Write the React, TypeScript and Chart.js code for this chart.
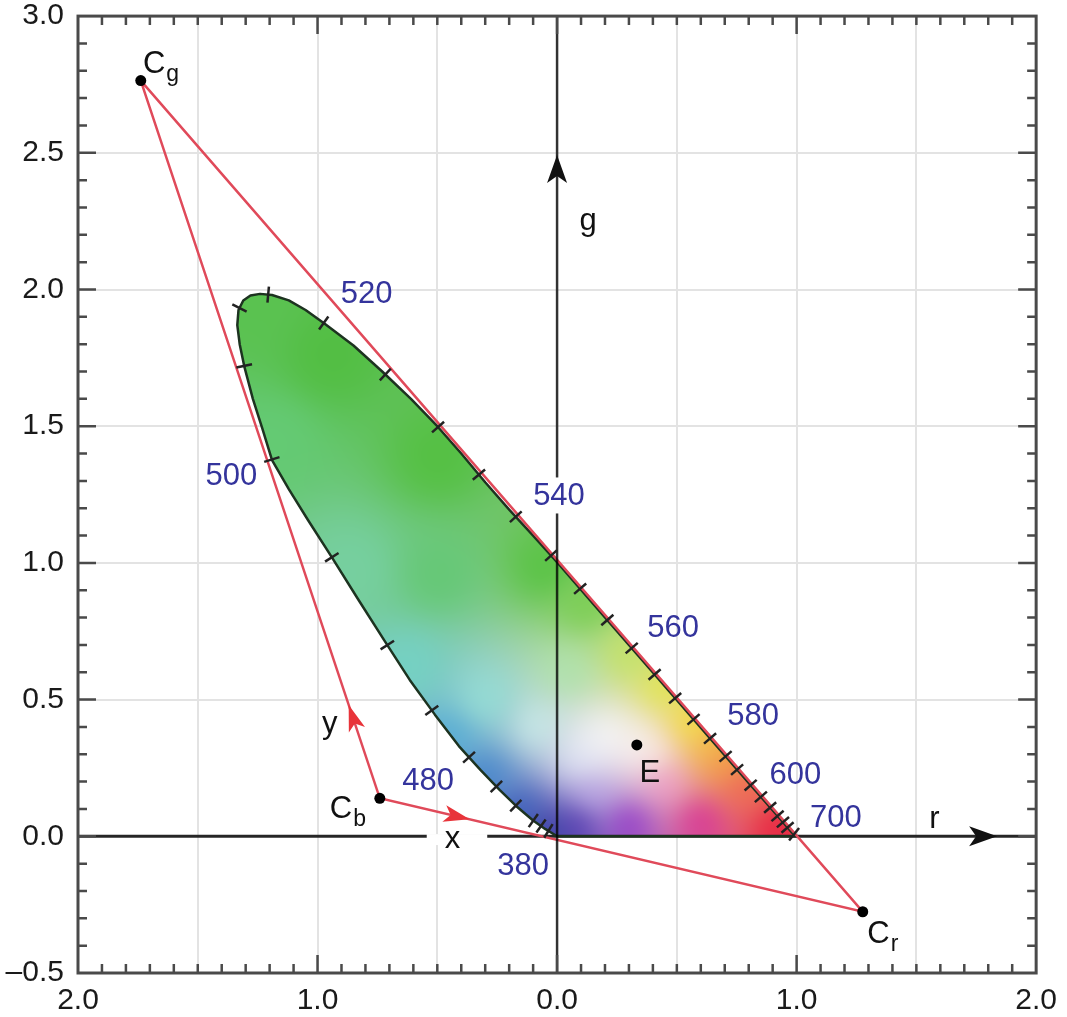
import React, { useEffect, useRef } from 'react';
import { Chart, registerables } from 'chart.js';

Chart.register(...registerables);

const FONT = "'Liberation Sans', Arial, Helvetica, sans-serif";

// Spectral locus (r, g), stylised as drawn in the figure: 380 nm -> 700 nm
const locusR = [
  0.0, -0.05, -0.1, -0.17, -0.24, -0.32, -0.41, -0.51, -0.615, -0.72, -0.83, -0.94, -1.04, -1.12, -1.19,
  -1.23, -1.27, -1.305, -1.325, -1.335, -1.33, -1.31, -1.28, -1.24,
  -1.19, -1.12, -1.05, -0.97, -0.85, -0.73, -0.61, -0.5, -0.4, -0.3, -0.2, -0.1, 0.0, 0.2, 0.4, 0.6, 0.8, 0.92, 0.98, 1.0,
];
const locusG = [
  0.0, 0.027, 0.058, 0.11, 0.17, 0.243, 0.33, 0.445, 0.572, 0.715, 0.866, 1.02, 1.157, 1.27, 1.376,
  1.49, 1.6, 1.716, 1.8, 1.87, 1.925, 1.96, 1.978, 1.984,
  1.98, 1.96, 1.925, 1.875, 1.795, 1.7, 1.6, 1.5, 1.4, 1.295, 1.195, 1.1, 1.003, 0.801, 0.599, 0.397, 0.195, 0.075, 0.014, 0.0,
];

// Wavelength tick marks along the locus
const tickR = [
  -0.052, -0.086, -0.127, -0.198, -0.269, -0.394, -0.532, -0.74, -0.97, -1.199, -1.333, -1.366,
  -1.207, -0.978, -0.728, -0.498, -0.323, -0.156, -0.01, 0.123, 0.219, 0.332, 0.419, 0.519, 0.582,
  0.665, 0.72, 0.774, 0.833, 0.874, 0.915, 0.949, 0.978, 0.999, 1.02,
];
const tickG = [
  -0.003, 0.014, 0.023, 0.089, 0.169, 0.268, 0.455, 0.682, 1.004, 1.376, 1.716, 1.95,
  1.972, 1.873, 1.679, 1.496, 1.325, 1.182, 1.039, 0.926, 0.798, 0.704, 0.601, 0.525, 0.437,
  0.378, 0.305, 0.261, 0.206, 0.162, 0.125, 0.096, 0.078, 0.06, 0.041,
];

// Primaries Cg, Cb, Cr and equal-energy point E
const primaryR = [-1.738, -0.74, 1.276, 0.333];
const primaryG = [2.764, 0.139, -0.276, 0.334];

// Triangle Cg -> Cr -> Cb -> Cg
const triR = [-1.738, 1.276, -0.74, -1.738];
const triG = [2.764, -0.276, 0.139, 2.764];

// Wavelength labels
const waveLabels = ['380', '480', '500', '520', '540', '560', '580', '600', '700'];
const waveLabelR = [-0.142, -0.538, -1.36, -0.795, 0.008, 0.484, 0.818, 0.995, 1.164];
const waveLabelG = [-0.11, 0.2, 1.316, 1.983, 1.243, 0.76, 0.438, 0.224, 0.065];
const waveLabelBg = [false, false, false, false, true, false, false, false, false];

// Other annotations (main text, subscript)
const textMain = ['C', 'C', 'C', 'E', 'g', 'r', 'x', 'y'];
const textSub = ['g', 'b', 'r', '', '', '', '', ''];
const textR = [-1.729, -0.949, 1.295, 0.344, 0.094, 1.554, -0.469, -0.981];
const textG = [2.792, 0.067, -0.39, 0.198, 2.216, 0.031, -0.043, 0.378];

// Arrows: from -> tip
const arrowFromR = [0, 0, -0.74, -0.74];
const arrowFromG = [0, 0, 0.139, 0.139];
const arrowTipR = [1.837, 0, -0.87, -0.365];
const arrowTipG = [0, 2.492, 0.48, 0.062];
const arrowColor = ['#111', '#111', '#e8343a', '#e8343a'];

// Colour anchors of the locus shading: r, g, R, G, B
const shadeAnchors: number[][] = [
  [-1.28, 1.95, 90, 194, 80],
  [-0.95, 1.75, 82, 190, 66],
  [-0.5, 1.38, 84, 192, 66],
  [-1.18, 1.45, 100, 202, 116],
  [-0.05, 0.98, 86, 194, 66],
  [-0.85, 0.98, 118, 208, 160],
  [-0.5, 0.95, 100, 200, 116],
  [-0.62, 0.62, 116, 210, 196],
  [-0.3, 0.5, 150, 224, 214],
  [-0.08, 0.4, 204, 238, 236],
  [-0.45, 0.36, 84, 172, 214],
  [-0.3, 0.22, 66, 132, 204],
  [-0.15, 0.09, 52, 92, 188],
  [-0.03, 0.02, 44, 54, 156],
  [0.08, 0.04, 74, 42, 172],
  [0.3, 0.05, 140, 42, 200],
  [0.6, 0.06, 214, 40, 150],
  [0.92, 0.03, 232, 32, 62],
  [0.78, 0.18, 240, 100, 80],
  [0.7, 0.27, 245, 150, 60],
  [0.64, 0.33, 246, 190, 60],
  [0.56, 0.41, 246, 230, 50],
  [0.44, 0.54, 226, 232, 72],
  [0.3, 0.66, 196, 228, 100],
  [0.12, 0.84, 120, 206, 80],
  [0.33, 0.33, 255, 255, 255],
  [0.22, 0.36, 255, 255, 255],
  [0.4, 0.3, 255, 242, 242],
  [0.1, 0.28, 228, 236, 250],
  [0.15, 0.33, 246, 249, 252],
  [0.45, 0.2, 242, 150, 205],
  [0.15, 0.16, 190, 170, 235],
  [0.05, 0.6, 174, 228, 172],
];

function shade(r: number, g: number): [number, number, number] {
  let sw = 0, a = 0, b = 0, c = 0;
  for (const an of shadeAnchors) {
    const dr = r - an[0];
    const dg = (g - an[1]) * 1.14;
    const d2 = dr * dr + dg * dg + 0.012;
    const w = Math.pow(d2, -1.5);
    sw += w;
    a += w * an[2];
    b += w * an[3];
    c += w * an[4];
  }
  return [a / sw, b / sw, c / sw];
}

const pxX = (c: any, v: number) => c.scales.x.getPixelForValue(v);
const pxY = (c: any, v: number) => c.scales.y.getPixelForValue(v);

function locusPath(ctx: CanvasRenderingContext2D, chart: any) {
  ctx.beginPath();
  locusR.forEach((r, i) => {
    const X = pxX(chart, r), Y = pxY(chart, locusG[i]);
    if (i === 0) ctx.moveTo(X, Y);
    else ctx.lineTo(X, Y);
  });
  ctx.closePath();
}

const fillPlugin = {
  id: 'locusFill',
  beforeDatasetsDraw(chart: any) {
    const ctx = chart.ctx as CanvasRenderingContext2D;
    const xs = locusR.map((r) => pxX(chart, r));
    const ys = locusG.map((g) => pxY(chart, g));
    const x0 = Math.floor(Math.min(...xs)) - 2;
    const x1 = Math.ceil(Math.max(...xs)) + 2;
    const y0 = Math.floor(Math.min(...ys)) - 2;
    const y1 = Math.ceil(Math.max(...ys)) + 2;
    const w = x1 - x0, h = y1 - y0;
    const off = document.createElement('canvas');
    off.width = w;
    off.height = h;
    const octx = off.getContext('2d')!;
    const img = octx.createImageData(w, h);
    const rv: number[] = [], gv: number[] = [];
    for (let i = 0; i < w; i++) rv.push(chart.scales.x.getValueForPixel(x0 + i + 0.5));
    for (let j = 0; j < h; j++) gv.push(chart.scales.y.getValueForPixel(y0 + j + 0.5));
    for (let j = 0; j < h; j++) {
      for (let i = 0; i < w; i++) {
        const c = shade(rv[i], gv[j]);
        const k = (j * w + i) * 4;
        img.data[k] = c[0];
        img.data[k + 1] = c[1];
        img.data[k + 2] = c[2];
        img.data[k + 3] = 255;
      }
    }
    octx.putImageData(img, 0, 0);
    ctx.save();
    locusPath(ctx, chart);
    ctx.clip();
    ctx.drawImage(off, x0, y0);
    ctx.restore();
  },
};

function drawArrow(ctx: CanvasRenderingContext2D, fx: number, fy: number, tx: number, ty: number, color: string, len: number, half: number) {
  const dx = tx - fx, dy = ty - fy;
  const L = Math.hypot(dx, dy) || 1;
  const ux = dx / L, uy = dy / L;
  const bx = tx - ux * len, by = ty - uy * len;
  ctx.fillStyle = color;
  ctx.beginPath();
  ctx.moveTo(tx, ty);
  ctx.lineTo(bx - uy * half, by + ux * half);
  ctx.lineTo(tx - ux * len * 0.75, ty - uy * len * 0.75);
  ctx.lineTo(bx + uy * half, by - ux * half);
  ctx.closePath();
  ctx.fill();
}

const annotPlugin = {
  id: 'annot',
  afterDatasetsDraw(chart: any) {
    const ctx = chart.ctx as CanvasRenderingContext2D;
    ctx.save();
    // locus ticks
    const pts = locusR.map((r, i) => [pxX(chart, r), pxY(chart, locusG[i])]);
    ctx.strokeStyle = '#222';
    ctx.lineWidth = 2.5;
    ctx.lineCap = 'butt';
    tickR.forEach((r, idx) => {
      const X = pxX(chart, r), Y = pxY(chart, tickG[idx]);
      let best: any = null;
      for (let i = 0; i < pts.length - 1; i++) {
        const [ax, ay] = pts[i];
        const [bx, by] = pts[i + 1];
        const dx = bx - ax, dy = by - ay;
        const L2 = dx * dx + dy * dy;
        if (!L2) continue;
        let t = ((X - ax) * dx + (Y - ay) * dy) / L2;
        t = Math.max(0, Math.min(1, t));
        const qx = ax + t * dx, qy = ay + t * dy;
        const d = (qx - X) ** 2 + (qy - Y) ** 2;
        if (!best || d < best.d) best = { d, qx, qy, dx, dy };
      }
      const L = Math.hypot(best.dx, best.dy);
      const nx = -best.dy / L, ny = best.dx / L;
      ctx.beginPath();
      ctx.moveTo(best.qx - nx * 8, best.qy - ny * 8);
      ctx.lineTo(best.qx + nx * 8, best.qy + ny * 8);
      ctx.stroke();
    });
    // arrows
    arrowTipR.forEach((r, i) => {
      const red = i >= 2;
      drawArrow(
        ctx,
        pxX(chart, arrowFromR[i]), pxY(chart, arrowFromG[i]),
        pxX(chart, r), pxY(chart, arrowTipG[i]),
        arrowColor[i], red ? 26 : 28, red ? 8.5 : 10
      );
    });
    // wavelength labels
    ctx.font = `31px ${FONT}`;
    ctx.textAlign = 'center';
    ctx.textBaseline = 'middle';
    waveLabels.forEach((t, i) => {
      const X = pxX(chart, waveLabelR[i]), Y = pxY(chart, waveLabelG[i]);
      if (waveLabelBg[i]) {
        const w = ctx.measureText(t).width;
        ctx.fillStyle = '#fff';
        ctx.fillRect(X - w / 2 - 4, Y - 19, w + 8, 36);
      }
      ctx.fillStyle = '#34349c';
      ctx.fillText(t, X, Y);
    });
    // other text
    ctx.textAlign = 'left';
    ctx.textBaseline = 'alphabetic';
    textMain.forEach((t, i) => {
      const X = pxX(chart, textR[i]), Y = pxY(chart, textG[i]);
      ctx.font = `31px ${FONT}`;
      const w = ctx.measureText(t).width;
      if (t === 'x') {
        ctx.fillStyle = '#fff';
        ctx.fillRect(X - 18, Y - 14, w + 45, 11);
      }
      ctx.fillStyle = '#111';
      ctx.fillText(t, X, Y);
      if (textSub[i]) {
        ctx.font = `23px ${FONT}`;
        ctx.fillText(textSub[i], X + w + 1, Y + 8);
      }
    });
    ctx.restore();
  },
  afterDraw(chart: any) {
    const ctx = chart.ctx as CanvasRenderingContext2D;
    const a = chart.chartArea;
    ctx.save();
    ctx.strokeStyle = '#4a4a4a';
    ctx.lineWidth = 2.5;
    // inward axis ticks
    for (let k = -19; k <= 19; k++) {
      const v = k / 10;
      const X = pxX(chart, v);
      const len = k % 10 === 0 ? 18 : 9;
      ctx.beginPath();
      ctx.moveTo(X, a.bottom);
      ctx.lineTo(X, a.bottom - len);
      ctx.moveTo(X, a.top);
      ctx.lineTo(X, a.top + len);
      ctx.stroke();
    }
    for (let k = -4; k <= 29; k++) {
      const v = k / 10;
      const Y = pxY(chart, v);
      const len = k % 5 === 0 ? 18 : 9;
      ctx.beginPath();
      ctx.moveTo(a.left, Y);
      ctx.lineTo(a.left + len, Y);
      ctx.moveTo(a.right, Y);
      ctx.lineTo(a.right - len, Y);
      ctx.stroke();
    }
    ctx.lineWidth = 3;
    ctx.strokeRect(a.left, a.top, a.right - a.left, a.bottom - a.top);
    ctx.restore();
  },
};

const toXY = (rs: number[], gs: number[]) => rs.map((r, i) => ({ x: r, y: gs[i] }));

export default function App() {
  const ref = useRef<HTMLCanvasElement | null>(null);
  useEffect(() => {
    if (!ref.current) return;
    const closedR = [...locusR, locusR[0]];
    const closedG = [...locusG, locusG[0]];
    const chart = new Chart(ref.current, {
      type: 'scatter',
      data: {
        datasets: [
          {
            data: toXY(primaryR, primaryG),
            showLine: false,
            pointRadius: 5.5,
            pointBackgroundColor: '#000',
            pointBorderWidth: 0,
            order: 1,
          },
          {
            data: toXY([0, 0], [-0.5, 3]),
            showLine: true,
            borderColor: 'rgba(0,0,0,0.78)',
            borderWidth: 2.5,
            pointRadius: 0,
            order: 2,
          },
          {
            data: toXY(triR, triG),
            showLine: true,
            borderColor: '#e04a5a',
            borderWidth: 2.5,
            pointRadius: 0,
            order: 3,
          },
          {
            data: toXY(closedR, closedG),
            showLine: true,
            borderColor: '#1d3320',
            borderWidth: 2.5,
            borderJoinStyle: 'round',
            pointRadius: 0,
            order: 4,
          },
          {
            data: toXY([-2, 2], [0, 0]),
            showLine: true,
            borderColor: '#262626',
            borderWidth: 3,
            pointRadius: 0,
            order: 5,
          },
        ],
      },
      options: {
        responsive: false,
        animation: false,
        devicePixelRatio: 1,
        layout: { padding: { top: 0, right: 30, left: 0, bottom: 0 } },
        plugins: { legend: { display: false }, tooltip: { enabled: false } },
        scales: {
          x: {
            type: 'linear',
            min: -2,
            max: 2,
            ticks: {
              stepSize: 0.5,
              autoSkip: false,
              maxRotation: 0,
              padding: 10,
              color: '#1a1a1a',
              font: { family: FONT, size: 30 },
              callback: (v: any) => (Math.abs(v - Math.round(v)) < 1e-9 ? Math.abs(v).toFixed(1) : ''),
            },
            grid: { color: '#e3e3e3', lineWidth: 2, drawTicks: false },
            border: { display: false },
            afterFit: (s: any) => {
              s.height = 44;
            },
          },
          y: {
            type: 'linear',
            min: -0.5,
            max: 3,
            ticks: {
              stepSize: 0.5,
              autoSkip: false,
              padding: 14,
              color: '#1a1a1a',
              font: { family: FONT, size: 30, lineHeight: 0.14 },
              callback: (v: any) => (v < 0 ? '\u2013' + Math.abs(v).toFixed(1) : Number(v).toFixed(1)),
            },
            grid: { color: '#e3e3e3', lineWidth: 2, drawTicks: false },
            border: { display: false },
            afterFit: (s: any) => {
              s.width = 78;
            },
          },
        },
      } as any,
      plugins: [fillPlugin, annotPlugin],
    });
    return () => chart.destroy();
  }, []);
  return (
    <div style={{ position: 'absolute', left: 0, top: 0, width: 1067, height: 1017, background: '#fff' }}>
      <canvas ref={ref} width={1067} height={1017} style={{ width: 1067, height: 1017 }} />
    </div>
  );
}
